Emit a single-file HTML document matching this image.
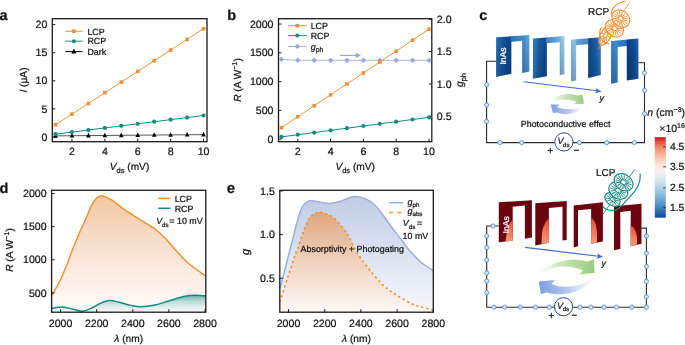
<!DOCTYPE html>
<html><head><meta charset="utf-8"><style>
html,body{margin:0;padding:0;background:#fff;width:685px;height:345px;overflow:hidden}
svg{display:block;will-change:transform;text-rendering:geometricPrecision}
text{stroke:#111;stroke-width:0.22px}
text.w{stroke:#fff}
</style></head><body><svg width="685" height="345" viewBox="0 0 685 345" font-family='"Liberation Sans", sans-serif' fill="#111"><rect x="52.3" y="18.7" width="154.7" height="122.99999999999999" fill="none" stroke="#1a1a1a" stroke-width="1.3"/>
<line x1="52.3" y1="137.00" x2="55.3" y2="137.00" stroke="#1a1a1a" stroke-width="1"/>
<text x="47.30" y="140.60" font-size="10.6" text-anchor="end" >0</text>
<line x1="52.3" y1="108.90" x2="55.3" y2="108.90" stroke="#1a1a1a" stroke-width="1"/>
<text x="47.30" y="112.50" font-size="10.6" text-anchor="end" >5</text>
<line x1="52.3" y1="80.80" x2="55.3" y2="80.80" stroke="#1a1a1a" stroke-width="1"/>
<text x="47.30" y="84.40" font-size="10.6" text-anchor="end" >10</text>
<line x1="52.3" y1="52.70" x2="55.3" y2="52.70" stroke="#1a1a1a" stroke-width="1"/>
<text x="47.30" y="56.30" font-size="10.6" text-anchor="end" >15</text>
<line x1="52.3" y1="24.60" x2="55.3" y2="24.60" stroke="#1a1a1a" stroke-width="1"/>
<text x="47.30" y="28.20" font-size="10.6" text-anchor="end" >20</text>
<line x1="71.95" y1="141.7" x2="71.95" y2="138.7" stroke="#1a1a1a" stroke-width="1"/>
<text x="71.95" y="154.70" font-size="10.6" text-anchor="middle" >2</text>
<line x1="104.85" y1="141.7" x2="104.85" y2="138.7" stroke="#1a1a1a" stroke-width="1"/>
<text x="104.85" y="154.70" font-size="10.6" text-anchor="middle" >4</text>
<line x1="137.75" y1="141.7" x2="137.75" y2="138.7" stroke="#1a1a1a" stroke-width="1"/>
<text x="137.75" y="154.70" font-size="10.6" text-anchor="middle" >6</text>
<line x1="170.65" y1="141.7" x2="170.65" y2="138.7" stroke="#1a1a1a" stroke-width="1"/>
<text x="170.65" y="154.70" font-size="10.6" text-anchor="middle" >8</text>
<line x1="203.55" y1="141.7" x2="203.55" y2="138.7" stroke="#1a1a1a" stroke-width="1"/>
<text x="203.55" y="154.70" font-size="10.6" text-anchor="middle" >10</text>
<polyline points="55.50,135.88 71.95,135.74 88.40,135.59 104.85,135.45 121.30,135.31 137.75,135.17 154.20,135.03 170.65,134.89 187.10,134.75 203.55,134.61" fill="none" stroke="#444" stroke-width="0.9"/>
<path d="M55.50,133.12 L57.80,137.72 L53.20,137.72Z" fill="#000"/>
<path d="M71.95,132.98 L74.25,137.58 L69.65,137.58Z" fill="#000"/>
<path d="M88.40,132.84 L90.70,137.44 L86.10,137.44Z" fill="#000"/>
<path d="M104.85,132.69 L107.15,137.29 L102.55,137.29Z" fill="#000"/>
<path d="M121.30,132.55 L123.60,137.15 L119.00,137.15Z" fill="#000"/>
<path d="M137.75,132.41 L140.05,137.01 L135.45,137.01Z" fill="#000"/>
<path d="M154.20,132.27 L156.50,136.87 L151.90,136.87Z" fill="#000"/>
<path d="M170.65,132.13 L172.95,136.73 L168.35,136.73Z" fill="#000"/>
<path d="M187.10,131.99 L189.40,136.59 L184.80,136.59Z" fill="#000"/>
<path d="M203.55,131.85 L205.85,136.45 L201.25,136.45Z" fill="#000"/>
<polyline points="55.50,134.19 71.95,132.11 88.40,130.03 104.85,127.95 121.30,125.87 137.75,123.79 154.20,121.71 170.65,119.63 187.10,117.55 203.55,115.48" fill="none" stroke="#138A80" stroke-width="1"/>
<circle cx="55.50" cy="134.19" r="2.1" fill="#138A80"/>
<circle cx="71.95" cy="132.11" r="2.1" fill="#138A80"/>
<circle cx="88.40" cy="130.03" r="2.1" fill="#138A80"/>
<circle cx="104.85" cy="127.95" r="2.1" fill="#138A80"/>
<circle cx="121.30" cy="125.87" r="2.1" fill="#138A80"/>
<circle cx="137.75" cy="123.79" r="2.1" fill="#138A80"/>
<circle cx="154.20" cy="121.71" r="2.1" fill="#138A80"/>
<circle cx="170.65" cy="119.63" r="2.1" fill="#138A80"/>
<circle cx="187.10" cy="117.55" r="2.1" fill="#138A80"/>
<circle cx="203.55" cy="115.48" r="2.1" fill="#138A80"/>
<polyline points="55.50,124.80 71.95,114.13 88.40,103.45 104.85,92.77 121.30,82.09 137.75,71.41 154.20,60.74 170.65,50.06 187.10,39.38 203.55,28.70" fill="none" stroke="#EC9235" stroke-width="1"/>
<rect x="53.70" y="123.00" width="3.6" height="3.6" fill="#EC9235"/>
<rect x="70.15" y="112.33" width="3.6" height="3.6" fill="#EC9235"/>
<rect x="86.60" y="101.65" width="3.6" height="3.6" fill="#EC9235"/>
<rect x="103.05" y="90.97" width="3.6" height="3.6" fill="#EC9235"/>
<rect x="119.50" y="80.29" width="3.6" height="3.6" fill="#EC9235"/>
<rect x="135.95" y="69.61" width="3.6" height="3.6" fill="#EC9235"/>
<rect x="152.40" y="58.94" width="3.6" height="3.6" fill="#EC9235"/>
<rect x="168.85" y="48.26" width="3.6" height="3.6" fill="#EC9235"/>
<rect x="185.30" y="37.58" width="3.6" height="3.6" fill="#EC9235"/>
<rect x="201.75" y="26.90" width="3.6" height="3.6" fill="#EC9235"/>
<line x1="65.3" y1="31.3" x2="82.5" y2="31.3" stroke="#EC9235" stroke-width="1"/>
<rect x="72.05" y="29.45" width="3.7" height="3.7" fill="#EC9235"/>
<text x="87.40" y="34.50" font-size="8.9" text-anchor="start" >LCP</text>
<line x1="65.3" y1="41.2" x2="82.5" y2="41.2" stroke="#138A80" stroke-width="1"/>
<circle cx="73.90" cy="41.20" r="2.0" fill="#138A80"/>
<text x="87.40" y="44.40" font-size="8.9" text-anchor="start" >RCP</text>
<line x1="65.3" y1="51.6" x2="82.5" y2="51.6" stroke="#000" stroke-width="1"/>
<path d="M73.90,48.60 L76.40,53.60 L71.40,53.60Z" fill="#000"/>
<text x="87.40" y="54.80" font-size="8.9" text-anchor="start" >Dark</text>
<text x="27.00" y="80.00" font-size="10.2" text-anchor="middle" transform="rotate(-90 27 80)"><tspan font-style="italic">I</tspan> (μA)</text>
<text x="129.50" y="170.10" font-size="10.2" text-anchor="middle" ><tspan font-style="italic">V</tspan><tspan font-size="7.5" dy="2.6">ds</tspan><tspan dy="-2.6"> (mV)</tspan></text>
<text x="-0.5" y="19.5" font-size="14.5" font-weight="bold">a</text>
<rect x="278.5" y="18.7" width="153.3" height="122.99999999999999" fill="none" stroke="#1a1a1a" stroke-width="1.3"/>
<line x1="278.5" y1="139.20" x2="281.5" y2="139.20" stroke="#1a1a1a" stroke-width="1"/>
<text x="273.50" y="142.80" font-size="10.6" text-anchor="end" >0</text>
<line x1="278.5" y1="110.41" x2="281.5" y2="110.41" stroke="#1a1a1a" stroke-width="1"/>
<text x="273.50" y="114.01" font-size="10.6" text-anchor="end" >500</text>
<line x1="278.5" y1="81.63" x2="281.5" y2="81.63" stroke="#1a1a1a" stroke-width="1"/>
<text x="273.50" y="85.23" font-size="10.6" text-anchor="end" >1000</text>
<line x1="278.5" y1="52.84" x2="281.5" y2="52.84" stroke="#1a1a1a" stroke-width="1"/>
<text x="273.50" y="56.44" font-size="10.6" text-anchor="end" >1500</text>
<line x1="278.5" y1="24.06" x2="281.5" y2="24.06" stroke="#1a1a1a" stroke-width="1"/>
<text x="273.50" y="27.66" font-size="10.6" text-anchor="end" >2000</text>
<line x1="431.8" y1="116.30" x2="428.8" y2="116.30" stroke="#1a1a1a" stroke-width="1"/>
<text x="436.80" y="119.90" font-size="10.6" text-anchor="start" >0.5</text>
<line x1="431.8" y1="83.95" x2="428.8" y2="83.95" stroke="#1a1a1a" stroke-width="1"/>
<text x="436.80" y="87.55" font-size="10.6" text-anchor="start" >1.0</text>
<line x1="431.8" y1="51.60" x2="428.8" y2="51.60" stroke="#1a1a1a" stroke-width="1"/>
<text x="436.80" y="55.20" font-size="10.6" text-anchor="start" >1.5</text>
<line x1="431.8" y1="19.25" x2="428.8" y2="19.25" stroke="#1a1a1a" stroke-width="1"/>
<text x="436.80" y="22.85" font-size="10.6" text-anchor="start" >2.0</text>
<line x1="297.80" y1="141.7" x2="297.80" y2="138.7" stroke="#1a1a1a" stroke-width="1"/>
<text x="297.80" y="154.70" font-size="10.6" text-anchor="middle" >2</text>
<line x1="330.60" y1="141.7" x2="330.60" y2="138.7" stroke="#1a1a1a" stroke-width="1"/>
<text x="330.60" y="154.70" font-size="10.6" text-anchor="middle" >4</text>
<line x1="363.40" y1="141.7" x2="363.40" y2="138.7" stroke="#1a1a1a" stroke-width="1"/>
<text x="363.40" y="154.70" font-size="10.6" text-anchor="middle" >6</text>
<line x1="396.20" y1="141.7" x2="396.20" y2="138.7" stroke="#1a1a1a" stroke-width="1"/>
<text x="396.20" y="154.70" font-size="10.6" text-anchor="middle" >8</text>
<line x1="429.00" y1="141.7" x2="429.00" y2="138.7" stroke="#1a1a1a" stroke-width="1"/>
<text x="429.00" y="154.70" font-size="10.6" text-anchor="middle" >10</text>
<polyline points="281.40,59.36 297.80,60.33 314.20,60.33 330.60,60.33 347.00,60.33 363.40,60.33 379.80,60.33 396.20,60.33 412.60,60.33 429.00,60.33" fill="none" stroke="#A9B9DE" stroke-width="1"/>
<path d="M281.40,56.66 L284.10,59.36 L281.40,62.06 L278.70,59.36Z" fill="#93A7D6"/>
<path d="M297.80,57.63 L300.50,60.33 L297.80,63.03 L295.10,60.33Z" fill="#93A7D6"/>
<path d="M314.20,57.63 L316.90,60.33 L314.20,63.03 L311.50,60.33Z" fill="#93A7D6"/>
<path d="M330.60,57.63 L333.30,60.33 L330.60,63.03 L327.90,60.33Z" fill="#93A7D6"/>
<path d="M347.00,57.63 L349.70,60.33 L347.00,63.03 L344.30,60.33Z" fill="#93A7D6"/>
<path d="M363.40,57.63 L366.10,60.33 L363.40,63.03 L360.70,60.33Z" fill="#93A7D6"/>
<path d="M379.80,57.63 L382.50,60.33 L379.80,63.03 L377.10,60.33Z" fill="#93A7D6"/>
<path d="M396.20,57.63 L398.90,60.33 L396.20,63.03 L393.50,60.33Z" fill="#93A7D6"/>
<path d="M412.60,57.63 L415.30,60.33 L412.60,63.03 L409.90,60.33Z" fill="#93A7D6"/>
<path d="M429.00,57.63 L431.70,60.33 L429.00,63.03 L426.30,60.33Z" fill="#93A7D6"/>
<polyline points="281.40,136.90 297.80,134.72 314.20,132.54 330.60,130.37 347.00,128.19 363.40,126.02 379.80,123.84 396.20,121.66 412.60,119.49 429.00,117.31" fill="none" stroke="#138A80" stroke-width="1"/>
<circle cx="281.40" cy="136.90" r="2.1" fill="#138A80"/>
<circle cx="297.80" cy="134.72" r="2.1" fill="#138A80"/>
<circle cx="314.20" cy="132.54" r="2.1" fill="#138A80"/>
<circle cx="330.60" cy="130.37" r="2.1" fill="#138A80"/>
<circle cx="347.00" cy="128.19" r="2.1" fill="#138A80"/>
<circle cx="363.40" cy="126.02" r="2.1" fill="#138A80"/>
<circle cx="379.80" cy="123.84" r="2.1" fill="#138A80"/>
<circle cx="396.20" cy="121.66" r="2.1" fill="#138A80"/>
<circle cx="412.60" cy="119.49" r="2.1" fill="#138A80"/>
<circle cx="429.00" cy="117.31" r="2.1" fill="#138A80"/>
<polyline points="281.40,127.69 297.80,116.75 314.20,105.81 330.60,94.87 347.00,83.93 363.40,72.99 379.80,62.06 396.20,51.12 412.60,40.18 429.00,29.24" fill="none" stroke="#EC9235" stroke-width="1"/>
<rect x="279.60" y="125.89" width="3.6" height="3.6" fill="#EC9235"/>
<rect x="296.00" y="114.95" width="3.6" height="3.6" fill="#EC9235"/>
<rect x="312.40" y="104.01" width="3.6" height="3.6" fill="#EC9235"/>
<rect x="328.80" y="93.07" width="3.6" height="3.6" fill="#EC9235"/>
<rect x="345.20" y="82.13" width="3.6" height="3.6" fill="#EC9235"/>
<rect x="361.60" y="71.19" width="3.6" height="3.6" fill="#EC9235"/>
<rect x="378.00" y="60.26" width="3.6" height="3.6" fill="#EC9235"/>
<rect x="394.40" y="49.32" width="3.6" height="3.6" fill="#EC9235"/>
<rect x="410.80" y="38.38" width="3.6" height="3.6" fill="#EC9235"/>
<rect x="427.20" y="27.44" width="3.6" height="3.6" fill="#EC9235"/>
<line x1="340" y1="55.4" x2="357" y2="55.4" stroke="#8DA2D6" stroke-width="1.1"/>
<path d="M360.8,55.4 L355.8,52.8 L355.8,58 Z" fill="#8DA2D6"/>
<line x1="288.2" y1="25.7" x2="306.8" y2="25.7" stroke="#EC9235" stroke-width="1"/>
<rect x="295.35" y="23.85" width="3.7" height="3.7" fill="#EC9235"/>
<text x="310.70" y="28.90" font-size="8.9" text-anchor="start" >LCP</text>
<line x1="288.2" y1="35.6" x2="306.8" y2="35.6" stroke="#138A80" stroke-width="1"/>
<circle cx="297.20" cy="35.60" r="2.0" fill="#138A80"/>
<text x="310.70" y="38.80" font-size="8.9" text-anchor="start" >RCP</text>
<line x1="288.2" y1="46.4" x2="306.8" y2="46.4" stroke="#9AAEDC" stroke-width="1"/>
<path d="M297.40,43.80 L300.00,46.40 L297.40,49.00 L294.80,46.40Z" fill="#93A7D6"/>
<text x="310.70" y="49.60" font-size="8.9" text-anchor="start" ><tspan font-style="italic">g</tspan><tspan font-size="7" dy="2">ph</tspan></text>
<text x="240.50" y="80.00" font-size="10.2" text-anchor="middle" transform="rotate(-90 240.5 80)"><tspan font-style="italic">R</tspan> (A W<tspan font-size="7" dy="-3.5">−1</tspan><tspan dy="3.5">)</tspan></text>
<text x="463.00" y="80.00" font-size="10.2" text-anchor="middle" transform="rotate(-90 463 80)"><tspan font-style="italic">g</tspan><tspan font-size="7.5" dy="2.6">ph</tspan></text>
<text x="355.20" y="170.10" font-size="10.2" text-anchor="middle" ><tspan font-style="italic">V</tspan><tspan font-size="7.5" dy="2.6">ds</tspan><tspan dy="-2.6"> (mV)</tspan></text>
<text x="227.2" y="19.5" font-size="14.5" font-weight="bold">b</text>
<defs><linearGradient id="gl" x1="0" y1="0" x2="0" y2="1"><stop offset="0" stop-color="#F0C7A0"/><stop offset="0.45" stop-color="#F8E1D1"/><stop offset="1" stop-color="#FFFCFB"/></linearGradient><linearGradient id="gr" gradientUnits="userSpaceOnUse" x1="0" y1="295" x2="0" y2="312"><stop offset="0" stop-color="#6AAFA6"/><stop offset="0.4" stop-color="#BEDDD9"/><stop offset="1" stop-color="#FBFDFD"/></linearGradient><linearGradient id="gb" gradientUnits="userSpaceOnUse" x1="0" y1="196" x2="0" y2="312"><stop offset="0" stop-color="#BFCBE6"/><stop offset="1" stop-color="#F7F8FC"/></linearGradient><linearGradient id="go" gradientUnits="userSpaceOnUse" x1="0" y1="213" x2="0" y2="312"><stop offset="0" stop-color="#DFA67B"/><stop offset="0.5" stop-color="#F0D2C0"/><stop offset="1" stop-color="#FDF8F6"/></linearGradient></defs>
<path d="M51.90,295.20 C53.15,293.00 57.05,286.70 59.40,282.00 C61.75,277.30 63.87,272.25 66.00,267.00 C68.13,261.75 69.85,256.45 72.20,250.50 C74.55,244.55 77.83,236.53 80.10,231.30 C82.37,226.07 83.92,223.40 85.80,219.10 C87.68,214.80 89.52,209.08 91.40,205.50 C93.28,201.92 95.22,199.20 97.10,197.60 C98.98,196.00 100.20,195.47 102.70,195.90 C105.20,196.33 108.95,198.25 112.10,200.20 C115.25,202.15 118.78,205.55 121.60,207.60 C124.42,209.65 126.05,210.58 129.00,212.50 C131.95,214.42 136.33,217.22 139.30,219.10 C142.27,220.98 144.60,222.40 146.80,223.80 C149.00,225.20 151.08,226.63 152.50,227.50 C153.92,228.37 153.10,227.12 155.30,229.00 C157.50,230.88 162.17,235.13 165.70,238.80 C169.23,242.47 172.73,246.93 176.50,251.00 C180.27,255.07 183.45,259.03 188.30,263.20 C193.15,267.37 202.72,273.87 205.60,276.00 L205.6,312.2 L51.9,312.2 Z" fill="url(#gl)"/>
<path d="M51.90,308.20 C53.58,308.00 58.55,306.87 62.00,307.00 C65.45,307.13 69.27,308.30 72.60,309.00 C75.93,309.70 78.77,311.37 82.00,311.20 C85.23,311.03 89.00,309.28 92.00,308.00 C95.00,306.72 97.08,304.73 100.00,303.50 C102.92,302.27 106.17,300.77 109.50,300.60 C112.83,300.43 116.58,301.72 120.00,302.50 C123.42,303.28 126.50,304.58 130.00,305.30 C133.50,306.02 136.83,306.85 141.00,306.80 C145.17,306.75 150.50,305.93 155.00,305.00 C159.50,304.07 163.08,302.65 168.00,301.20 C172.92,299.75 179.87,297.30 184.50,296.30 C189.13,295.30 192.28,295.28 195.80,295.20 C199.32,295.12 203.97,295.70 205.60,295.80 L205.6,312.2 L51.9,312.2 Z" fill="url(#gr)"/>
<path d="M51.90,295.20 C53.15,293.00 57.05,286.70 59.40,282.00 C61.75,277.30 63.87,272.25 66.00,267.00 C68.13,261.75 69.85,256.45 72.20,250.50 C74.55,244.55 77.83,236.53 80.10,231.30 C82.37,226.07 83.92,223.40 85.80,219.10 C87.68,214.80 89.52,209.08 91.40,205.50 C93.28,201.92 95.22,199.20 97.10,197.60 C98.98,196.00 100.20,195.47 102.70,195.90 C105.20,196.33 108.95,198.25 112.10,200.20 C115.25,202.15 118.78,205.55 121.60,207.60 C124.42,209.65 126.05,210.58 129.00,212.50 C131.95,214.42 136.33,217.22 139.30,219.10 C142.27,220.98 144.60,222.40 146.80,223.80 C149.00,225.20 151.08,226.63 152.50,227.50 C153.92,228.37 153.10,227.12 155.30,229.00 C157.50,230.88 162.17,235.13 165.70,238.80 C169.23,242.47 172.73,246.93 176.50,251.00 C180.27,255.07 183.45,259.03 188.30,263.20 C193.15,267.37 202.72,273.87 205.60,276.00" fill="none" stroke="#EC9235" stroke-width="1.5"/>
<path d="M51.90,308.20 C53.58,308.00 58.55,306.87 62.00,307.00 C65.45,307.13 69.27,308.30 72.60,309.00 C75.93,309.70 78.77,311.37 82.00,311.20 C85.23,311.03 89.00,309.28 92.00,308.00 C95.00,306.72 97.08,304.73 100.00,303.50 C102.92,302.27 106.17,300.77 109.50,300.60 C112.83,300.43 116.58,301.72 120.00,302.50 C123.42,303.28 126.50,304.58 130.00,305.30 C133.50,306.02 136.83,306.85 141.00,306.80 C145.17,306.75 150.50,305.93 155.00,305.00 C159.50,304.07 163.08,302.65 168.00,301.20 C172.92,299.75 179.87,297.30 184.50,296.30 C189.13,295.30 192.28,295.28 195.80,295.20 C199.32,295.12 203.97,295.70 205.60,295.80" fill="none" stroke="#138A80" stroke-width="1.5"/>
<rect x="51.6" y="190.3" width="154.20000000000002" height="121.89999999999998" fill="none" stroke="#1a1a1a" stroke-width="1.3"/>
<line x1="51.6" y1="292.90" x2="54.6" y2="292.90" stroke="#1a1a1a" stroke-width="1"/>
<text x="46.60" y="296.50" font-size="10.6" text-anchor="end" >500</text>
<line x1="51.6" y1="259.80" x2="54.6" y2="259.80" stroke="#1a1a1a" stroke-width="1"/>
<text x="46.60" y="263.40" font-size="10.6" text-anchor="end" >1000</text>
<line x1="51.6" y1="226.70" x2="54.6" y2="226.70" stroke="#1a1a1a" stroke-width="1"/>
<text x="46.60" y="230.30" font-size="10.6" text-anchor="end" >1500</text>
<line x1="51.6" y1="193.60" x2="54.6" y2="193.60" stroke="#1a1a1a" stroke-width="1"/>
<text x="46.60" y="197.20" font-size="10.6" text-anchor="end" >2000</text>
<line x1="60.60" y1="312.2" x2="60.60" y2="309.2" stroke="#1a1a1a" stroke-width="1"/>
<text x="60.60" y="326.80" font-size="10.6" text-anchor="middle" >2000</text>
<line x1="96.70" y1="312.2" x2="96.70" y2="309.2" stroke="#1a1a1a" stroke-width="1"/>
<text x="96.70" y="326.80" font-size="10.6" text-anchor="middle" >2200</text>
<line x1="132.80" y1="312.2" x2="132.80" y2="309.2" stroke="#1a1a1a" stroke-width="1"/>
<text x="132.80" y="326.80" font-size="10.6" text-anchor="middle" >2400</text>
<line x1="168.90" y1="312.2" x2="168.90" y2="309.2" stroke="#1a1a1a" stroke-width="1"/>
<text x="168.90" y="326.80" font-size="10.6" text-anchor="middle" >2600</text>
<line x1="205.00" y1="312.2" x2="205.00" y2="309.2" stroke="#1a1a1a" stroke-width="1"/>
<text x="205.00" y="326.80" font-size="10.6" text-anchor="middle" >2800</text>
<line x1="158.1" y1="198.4" x2="170.4" y2="198.4" stroke="#EC9235" stroke-width="1.5"/>
<line x1="158.1" y1="208.3" x2="170.4" y2="208.3" stroke="#138A80" stroke-width="1.5"/>
<text x="174.70" y="201.60" font-size="8.9" text-anchor="start" >LCP</text>
<text x="174.70" y="211.50" font-size="8.9" text-anchor="start" >RCP</text>
<text x="156.20" y="223.80" font-size="8.9" text-anchor="start" ><tspan font-style="italic">V</tspan><tspan font-size="6.2" dy="2.8">ds</tspan><tspan x="169.3" dy="-2.8">= 10 mV</tspan></text>
<text x="12.50" y="250.00" font-size="10.2" text-anchor="middle" transform="rotate(-90 12.5 250)"><tspan font-style="italic">R</tspan> (A W<tspan font-size="7" dy="-3.5">−1</tspan><tspan dy="3.5">)</tspan></text>
<text x="128.70" y="342.00" font-size="10.2" text-anchor="middle" ><tspan font-style="italic">λ</tspan> (nm)</text>
<text x="-0.5" y="192.5" font-size="14.5" font-weight="bold">d</text>
<path d="M279.90,288.60 C280.67,285.75 283.05,277.10 284.50,271.50 C285.95,265.90 287.20,260.50 288.60,255.00 C290.00,249.50 291.60,243.57 292.90,238.50 C294.20,233.43 295.23,228.95 296.40,224.60 C297.57,220.25 298.75,215.60 299.90,212.40 C301.05,209.20 302.00,207.20 303.30,205.40 C304.60,203.60 306.25,202.40 307.70,201.60 C309.15,200.80 310.12,200.53 312.00,200.60 C313.88,200.67 316.20,201.53 319.00,202.00 C321.80,202.47 325.28,203.50 328.80,203.40 C332.32,203.30 336.90,202.27 340.10,201.40 C343.30,200.53 345.52,199.02 348.00,198.20 C350.48,197.38 352.27,196.47 355.00,196.50 C357.73,196.53 361.27,197.15 364.40,198.40 C367.53,199.65 370.67,201.18 373.80,204.00 C376.93,206.82 380.05,211.22 383.20,215.30 C386.35,219.38 389.55,224.27 392.70,228.50 C395.85,232.73 399.30,237.03 402.10,240.70 C404.90,244.37 406.37,246.92 409.50,250.50 C412.63,254.08 416.95,258.83 420.90,262.20 C424.85,265.57 431.15,269.28 433.20,270.70 L433.2,312.2 L279.9,312.2 Z" fill="url(#gb)"/>
<path d="M279.90,302.00 C281.25,297.75 285.40,284.50 288.00,276.50 C290.60,268.50 293.82,258.88 295.50,254.00 C297.18,249.12 297.08,250.08 298.10,247.20 C299.12,244.32 300.43,240.03 301.60,236.70 C302.77,233.37 303.93,230.10 305.10,227.20 C306.27,224.30 307.30,221.42 308.60,219.30 C309.90,217.18 311.32,215.65 312.90,214.50 C314.48,213.35 316.53,212.72 318.10,212.40 C319.67,212.08 319.88,211.80 322.30,212.60 C324.72,213.40 329.00,214.47 332.60,217.20 C336.20,219.93 341.08,225.53 343.90,229.00 C346.72,232.47 347.62,234.57 349.50,238.00 C351.38,241.43 352.80,245.50 355.20,249.60 C357.60,253.70 361.00,258.62 363.90,262.60 C366.80,266.58 369.70,270.02 372.60,273.50 C375.50,276.98 378.40,280.65 381.30,283.50 C384.20,286.35 387.10,288.43 390.00,290.60 C392.90,292.77 395.12,294.33 398.70,296.50 C402.28,298.67 407.80,301.85 411.50,303.60 C415.20,305.35 417.28,305.95 420.90,307.00 C424.52,308.05 431.15,309.42 433.20,309.90 L433.2,312.2 L279.9,312.2 Z" fill="url(#go)"/>
<path d="M279.90,288.60 C280.67,285.75 283.05,277.10 284.50,271.50 C285.95,265.90 287.20,260.50 288.60,255.00 C290.00,249.50 291.60,243.57 292.90,238.50 C294.20,233.43 295.23,228.95 296.40,224.60 C297.57,220.25 298.75,215.60 299.90,212.40 C301.05,209.20 302.00,207.20 303.30,205.40 C304.60,203.60 306.25,202.40 307.70,201.60 C309.15,200.80 310.12,200.53 312.00,200.60 C313.88,200.67 316.20,201.53 319.00,202.00 C321.80,202.47 325.28,203.50 328.80,203.40 C332.32,203.30 336.90,202.27 340.10,201.40 C343.30,200.53 345.52,199.02 348.00,198.20 C350.48,197.38 352.27,196.47 355.00,196.50 C357.73,196.53 361.27,197.15 364.40,198.40 C367.53,199.65 370.67,201.18 373.80,204.00 C376.93,206.82 380.05,211.22 383.20,215.30 C386.35,219.38 389.55,224.27 392.70,228.50 C395.85,232.73 399.30,237.03 402.10,240.70 C404.90,244.37 406.37,246.92 409.50,250.50 C412.63,254.08 416.95,258.83 420.90,262.20 C424.85,265.57 431.15,269.28 433.20,270.70" fill="none" stroke="#9AAEDC" stroke-width="1.5"/>
<path d="M279.90,302.00 C281.25,297.75 285.40,284.50 288.00,276.50 C290.60,268.50 293.82,258.88 295.50,254.00 C297.18,249.12 297.08,250.08 298.10,247.20 C299.12,244.32 300.43,240.03 301.60,236.70 C302.77,233.37 303.93,230.10 305.10,227.20 C306.27,224.30 307.30,221.42 308.60,219.30 C309.90,217.18 311.32,215.65 312.90,214.50 C314.48,213.35 316.53,212.72 318.10,212.40 C319.67,212.08 319.88,211.80 322.30,212.60 C324.72,213.40 329.00,214.47 332.60,217.20 C336.20,219.93 341.08,225.53 343.90,229.00 C346.72,232.47 347.62,234.57 349.50,238.00 C351.38,241.43 352.80,245.50 355.20,249.60 C357.60,253.70 361.00,258.62 363.90,262.60 C366.80,266.58 369.70,270.02 372.60,273.50 C375.50,276.98 378.40,280.65 381.30,283.50 C384.20,286.35 387.10,288.43 390.00,290.60 C392.90,292.77 395.12,294.33 398.70,296.50 C402.28,298.67 407.80,301.85 411.50,303.60 C415.20,305.35 417.28,305.95 420.90,307.00 C424.52,308.05 431.15,309.42 433.20,309.90" fill="none" stroke="#EA8F2E" stroke-width="1.6" stroke-dasharray="2.2 2.9"/>
<rect x="279.8" y="190.3" width="153.5" height="121.89999999999998" fill="none" stroke="#1a1a1a" stroke-width="1.3"/>
<line x1="279.8" y1="278.20" x2="282.8" y2="278.20" stroke="#1a1a1a" stroke-width="1"/>
<text x="274.80" y="281.80" font-size="10.6" text-anchor="end" >0.5</text>
<line x1="279.8" y1="234.60" x2="282.8" y2="234.60" stroke="#1a1a1a" stroke-width="1"/>
<text x="274.80" y="238.20" font-size="10.6" text-anchor="end" >1.0</text>
<line x1="279.8" y1="191.00" x2="282.8" y2="191.00" stroke="#1a1a1a" stroke-width="1"/>
<text x="274.80" y="194.60" font-size="10.6" text-anchor="end" >1.5</text>
<line x1="288.50" y1="312.2" x2="288.50" y2="309.2" stroke="#1a1a1a" stroke-width="1"/>
<text x="288.50" y="326.80" font-size="10.6" text-anchor="middle" >2000</text>
<line x1="324.70" y1="312.2" x2="324.70" y2="309.2" stroke="#1a1a1a" stroke-width="1"/>
<text x="324.70" y="326.80" font-size="10.6" text-anchor="middle" >2200</text>
<line x1="360.90" y1="312.2" x2="360.90" y2="309.2" stroke="#1a1a1a" stroke-width="1"/>
<text x="360.90" y="326.80" font-size="10.6" text-anchor="middle" >2400</text>
<line x1="397.10" y1="312.2" x2="397.10" y2="309.2" stroke="#1a1a1a" stroke-width="1"/>
<text x="397.10" y="326.80" font-size="10.6" text-anchor="middle" >2600</text>
<line x1="433.30" y1="312.2" x2="433.30" y2="309.2" stroke="#1a1a1a" stroke-width="1"/>
<text x="433.30" y="326.80" font-size="10.6" text-anchor="middle" >2800</text>
<line x1="388.9" y1="202.7" x2="403" y2="202.7" stroke="#9AAEDC" stroke-width="1.5"/>
<line x1="388.9" y1="212.4" x2="403" y2="212.4" stroke="#F0A028" stroke-width="1.5" stroke-dasharray="4.2 4.2"/>
<text x="407.50" y="204.90" font-size="8.9" text-anchor="start" ><tspan font-style="italic">g</tspan><tspan font-size="6.2" dy="2.4">ph</tspan></text>
<text x="407.50" y="213.80" font-size="8.9" text-anchor="start" ><tspan font-style="italic">g</tspan><tspan font-size="6.2" dy="2.4">abs</tspan></text>
<text x="402.80" y="226.30" font-size="8.9" text-anchor="start" ><tspan font-style="italic">V</tspan><tspan font-size="6.2" dy="2.8">ds</tspan><tspan x="417" dy="-2.8">=</tspan></text>
<text x="402.60" y="238.60" font-size="8.9" text-anchor="start" >10 mV</text>
<text x="300.60" y="252.00" font-size="8.9" text-anchor="start" >Absorptivity + Photogating</text>
<text x="248.50" y="252.00" font-size="11" text-anchor="middle" transform="rotate(-90 248.5 252)"><tspan font-style="italic">g</tspan></text>
<text x="356.50" y="342.00" font-size="10.2" text-anchor="middle" ><tspan font-style="italic">λ</tspan> (nm)</text>
<text x="226.7" y="192.8" font-size="15" font-weight="bold">e</text>
<defs><linearGradient id="bl1" x1="0" y1="0" x2="1" y2="0"><stop offset="0" stop-color="#2f78c0"/><stop offset="0.28" stop-color="#1a5fa8"/><stop offset="0.42" stop-color="#0c4a92"/><stop offset="0.45" stop-color="#3582c8"/><stop offset="0.8" stop-color="#3d8acc"/><stop offset="1" stop-color="#5a9ed8"/></linearGradient><linearGradient id="bl2" x1="0" y1="0" x2="1" y2="0"><stop offset="0" stop-color="#2a74bc"/><stop offset="0.38" stop-color="#0b4a92"/><stop offset="0.45" stop-color="#5a9ed8"/><stop offset="0.85" stop-color="#9cc9ec"/><stop offset="1" stop-color="#a8d0ee"/></linearGradient><linearGradient id="bl3" x1="0" y1="0" x2="1" y2="0"><stop offset="0" stop-color="#7fb6e2"/><stop offset="0.2" stop-color="#8cc0e8"/><stop offset="0.55" stop-color="#4a90d0"/><stop offset="0.8" stop-color="#1a5ea8"/><stop offset="1" stop-color="#2d74bc"/></linearGradient><linearGradient id="bl4" x1="0" y1="0" x2="1" y2="0"><stop offset="0" stop-color="#2c78c0"/><stop offset="0.25" stop-color="#3a86cc"/><stop offset="0.6" stop-color="#1a60aa"/><stop offset="0.82" stop-color="#0a4088"/><stop offset="1" stop-color="#1c5ea8"/></linearGradient><linearGradient id="shade" x1="0" y1="0" x2="0" y2="1"><stop offset="0" stop-color="#000" stop-opacity="0"/><stop offset="1" stop-color="#001a40" stop-opacity="0.25"/></linearGradient><linearGradient id="glow" x1="0" y1="0" x2="0" y2="1"><stop offset="0" stop-color="#e04a30" stop-opacity="0.5"/><stop offset="0.15" stop-color="#ea5a3c"/><stop offset="1" stop-color="#f79a7c"/></linearGradient><linearGradient id="cbar" x1="0" y1="0" x2="0" y2="1"><stop offset="0" stop-color="#b8141f"/><stop offset="0.04" stop-color="#e0402f"/><stop offset="0.13" stop-color="#f38a6c"/><stop offset="0.25" stop-color="#f9c3ae"/><stop offset="0.35" stop-color="#fce6dc"/><stop offset="0.43" stop-color="#f3f1f4"/><stop offset="0.55" stop-color="#d3e3f0"/><stop offset="0.7" stop-color="#93c2df"/><stop offset="0.85" stop-color="#4a90c6"/><stop offset="1" stop-color="#0c4a92"/></linearGradient><linearGradient id="garc" x1="0" y1="0" x2="1" y2="0"><stop offset="0" stop-color="#a6d38c" stop-opacity="0"/><stop offset="0.5" stop-color="#b5dca0" stop-opacity="0.85"/><stop offset="1" stop-color="#96cc7c"/></linearGradient><linearGradient id="barc" x1="0" y1="0" x2="1" y2="0"><stop offset="0" stop-color="#7a9de0"/><stop offset="0.5" stop-color="#a9bfea" stop-opacity="0.9"/><stop offset="1" stop-color="#c6d4f2" stop-opacity="0"/></linearGradient></defs>
<path d="M496,61.2 H486.6 V142.6 H554.6 M572.2,142.6 H644.5 V62.7 H638.4" fill="none" stroke="#2b2b2b" stroke-width="1.1"/>
<defs>
<linearGradient id="k1L" x1="0" y1="0" x2="1" y2="0"><stop offset="0" stop-color="#2c72ba"/><stop offset="0.45" stop-color="#17589f"/><stop offset="1" stop-color="#0b4288"/></linearGradient>
<linearGradient id="k1T" x1="0" y1="0" x2="1" y2="0"><stop offset="0" stop-color="#2a76c0"/><stop offset="1" stop-color="#3f8ccf"/></linearGradient>
<linearGradient id="k1R" x1="0" y1="0" x2="1" y2="0"><stop offset="0" stop-color="#3a88cc"/><stop offset="1" stop-color="#6aa8dc"/></linearGradient>
</defs>
<path d="M496.1,37.3 L511.35,36.29 L511.35,73.7 L496.1,77.1 Z" fill="url(#k1L)"/>
<path d="M510.65,36.34 L522.85,35.53 L522.85,40.65 L510.65,42.050000000000004 Z" fill="url(#k1T)"/>
<path d="M522.15,35.58 L529.4,35.1 L529.4,71.6 L522.15,73 Z" fill="url(#k1R)"/>
<defs>
<linearGradient id="k2L" x1="0" y1="0" x2="1" y2="0"><stop offset="0" stop-color="#3a86c8"/><stop offset="0.45" stop-color="#1a5ea6"/><stop offset="1" stop-color="#0c4a94"/></linearGradient>
<linearGradient id="k2T" x1="0" y1="0" x2="1" y2="0"><stop offset="0" stop-color="#3a86c8"/><stop offset="1" stop-color="#7ab4e0"/></linearGradient>
<linearGradient id="k2R" x1="0" y1="0" x2="1" y2="0"><stop offset="0" stop-color="#7cb8e4"/><stop offset="1" stop-color="#a6d0ee"/></linearGradient>
</defs>
<path d="M532.9,38.6 L546.85,37.40 L546.85,76.2 L532.9,78.7 Z" fill="url(#k2L)"/>
<path d="M546.15,37.46 L560.35,36.25 L560.35,42.35 L546.15,43.25 Z" fill="url(#k2T)"/>
<path d="M559.65,36.31 L564.4,35.9 L564.4,74.3 L559.65,74.9 Z" fill="url(#k2R)"/>
<defs>
<linearGradient id="k3L" x1="0" y1="0" x2="1" y2="0"><stop offset="0" stop-color="#86bde6"/><stop offset="1" stop-color="#9ccaee"/></linearGradient>
<linearGradient id="k3T" x1="0" y1="0" x2="1" y2="0"><stop offset="0" stop-color="#6aaadc"/><stop offset="1" stop-color="#3e88ca"/></linearGradient>
<linearGradient id="k3R" x1="0" y1="0" x2="1" y2="0"><stop offset="0" stop-color="#0b4890"/><stop offset="0.6" stop-color="#1a5ea8"/><stop offset="1" stop-color="#3a80c4"/></linearGradient>
</defs>
<path d="M571,39.7 L576.25,39.26 L576.25,80.6 L571,81.5 Z" fill="url(#k3L)"/>
<path d="M575.55,39.32 L588.85,38.20 L588.85,44.15 L575.55,45.15 Z" fill="url(#k3T)"/>
<path d="M588.15,38.26 L600.8,37.2 L600.8,74.9 L588.15,78.1 Z" fill="url(#k3R)"/>
<defs>
<linearGradient id="k4L" x1="0" y1="0" x2="1" y2="0"><stop offset="0" stop-color="#3080c8"/><stop offset="1" stop-color="#4690d0"/></linearGradient>
<linearGradient id="k4T" x1="0" y1="0" x2="1" y2="0"><stop offset="0" stop-color="#3a86cc"/><stop offset="1" stop-color="#2a70b8"/></linearGradient>
<linearGradient id="k4R" x1="0" y1="0" x2="1" y2="0"><stop offset="0" stop-color="#0a3f82"/><stop offset="0.6" stop-color="#114d96"/><stop offset="1" stop-color="#2464ac"/></linearGradient>
</defs>
<path d="M611.1,41 L617.75,40.42 L617.75,82.4 L611.1,83.8 Z" fill="url(#k4L)"/>
<path d="M617.05,40.48 L627.45,39.56 L627.45,46.050000000000004 L617.05,47.050000000000004 Z" fill="url(#k4T)"/>
<path d="M626.75,39.62 L638.4,38.6 L638.4,78.7 L626.75,80.6 Z" fill="url(#k4R)"/>
<path d="M496.1,37.3 L529.4,35.1 L529.4,71.6 L522.5,73 L522.5,40.3 L511,41.7 L511,73.7 L496.1,77.1 Z" fill="url(#shade)"/>
<path d="M532.9,38.6 L564.4,35.9 L564.4,74.3 L560,74.9 L560,42 L546.5,42.9 L546.5,76.2 L532.9,78.7 Z" fill="url(#shade)"/>
<path d="M571,39.7 L600.8,37.2 L600.8,74.9 L588.5,78.1 L588.5,43.8 L575.9,44.8 L575.9,80.6 L571,81.5 Z" fill="url(#shade)"/>
<path d="M611.1,41 L638.4,38.6 L638.4,78.7 L627.1,80.6 L627.1,45.7 L617.4,46.7 L617.4,82.4 L611.1,83.8 Z" fill="url(#shade)"/>
<text x="0" y="0" class="w" font-size="8.6" fill="#fff" text-anchor="middle" transform="translate(506,56) rotate(-90)">InAs</text>
<circle cx="486.6" cy="84.7" r="2.1" fill="#d6e6f7" stroke="#5a8ed6" stroke-width="0.9"/>
<circle cx="486.6" cy="105" r="2.1" fill="#d6e6f7" stroke="#5a8ed6" stroke-width="0.9"/>
<circle cx="486.6" cy="121.5" r="2.1" fill="#d6e6f7" stroke="#5a8ed6" stroke-width="0.9"/>
<circle cx="499.9" cy="142.6" r="2.1" fill="#d6e6f7" stroke="#5a8ed6" stroke-width="0.9"/>
<circle cx="521.7" cy="142.6" r="2.1" fill="#d6e6f7" stroke="#5a8ed6" stroke-width="0.9"/>
<circle cx="579.4" cy="142.6" r="2.1" fill="#d6e6f7" stroke="#5a8ed6" stroke-width="0.9"/>
<circle cx="606.7" cy="142.6" r="2.1" fill="#d6e6f7" stroke="#5a8ed6" stroke-width="0.9"/>
<circle cx="634.3" cy="142.6" r="2.1" fill="#d6e6f7" stroke="#5a8ed6" stroke-width="0.9"/>
<circle cx="644.5" cy="73" r="2.1" fill="#d6e6f7" stroke="#5a8ed6" stroke-width="0.9"/>
<circle cx="644.5" cy="90.5" r="2.1" fill="#d6e6f7" stroke="#5a8ed6" stroke-width="0.9"/>
<circle cx="644.5" cy="113.7" r="2.1" fill="#d6e6f7" stroke="#5a8ed6" stroke-width="0.9"/>
<circle cx="563.9" cy="141.9" r="9.1" fill="#fff" stroke="#2c4678" stroke-width="1"/>
<text x="557.4" y="144.3" font-size="9" font-style="italic">V</text>
<text x="563.1" y="146.5" font-size="6">ds</text>
<text x="550.4" y="153.50000000000003" font-size="10.5" text-anchor="middle">+</text>
<rect x="574.0" y="149.70000000000002" width="5" height="1.1" fill="#111"/>
<line x1="523.7" y1="81.8" x2="597" y2="90.8" stroke="#3d68cc" stroke-width="1.1"/>
<path d="M601.5,91.4 L595.5,88 L596.8,90.8 L594.8,93.5 Z" fill="#3d68cc"/>
<text x="599.5" y="100.5" font-size="9" font-style="italic">y</text>
<path d="M550.7,101.2 C556,94.2 568,92 578.5,95.6 L582.2,94.4 L584,103.8 L574,104 L577,101.8 C568,98.8 558,98.8 550.7,101.2 Z" fill="url(#garc)"/>
<path d="M583.7,106.8 C579,113.5 566,116.3 557,112.5 L553,113 L550.6,104.6 L559.6,104.6 L557,107.2 C565,109.8 576,109.8 583.7,106.8 Z" fill="url(#barc)"/>
<text x="520.8" y="126.8" font-size="8.9">Photoconductive effect</text>
<text x="588" y="14.5" font-size="10">RCP</text>
<line x1="598" y1="49.5" x2="629.6" y2="2.5" stroke="#EE8E2E" stroke-width="0.9"/>
<g transform="translate(605.8,35) rotate(28)">
<ellipse cx="0" cy="0" rx="5.2" ry="11.2" fill="#fff" fill-opacity="0.6" stroke="#EE8E2E" stroke-width="1.2"/>
<ellipse cx="0" cy="0" rx="1.46" ry="3.14" fill="none" stroke="#EE8E2E" stroke-width="0.9"/>
<line x1="1.56" y1="0.00" x2="4.42" y2="0.00" stroke="#EE8E2E" stroke-width="0.85"/>
<line x1="1.35" y1="1.68" x2="3.83" y2="4.76" stroke="#EE8E2E" stroke-width="0.85"/>
<line x1="0.78" y1="2.91" x2="2.21" y2="8.24" stroke="#EE8E2E" stroke-width="0.85"/>
<line x1="0.00" y1="3.36" x2="0.00" y2="9.52" stroke="#EE8E2E" stroke-width="0.85"/>
<line x1="-0.78" y1="2.91" x2="-2.21" y2="8.24" stroke="#EE8E2E" stroke-width="0.85"/>
<line x1="-1.35" y1="1.68" x2="-3.83" y2="4.76" stroke="#EE8E2E" stroke-width="0.85"/>
<line x1="-1.56" y1="0.00" x2="-4.42" y2="0.00" stroke="#EE8E2E" stroke-width="0.85"/>
<line x1="-1.35" y1="-1.68" x2="-3.83" y2="-4.76" stroke="#EE8E2E" stroke-width="0.85"/>
<line x1="-0.78" y1="-2.91" x2="-2.21" y2="-8.24" stroke="#EE8E2E" stroke-width="0.85"/>
<line x1="-0.00" y1="-3.36" x2="-0.00" y2="-9.52" stroke="#EE8E2E" stroke-width="0.85"/>
<line x1="0.78" y1="-2.91" x2="2.21" y2="-8.24" stroke="#EE8E2E" stroke-width="0.85"/>
<line x1="1.35" y1="-1.68" x2="3.83" y2="-4.76" stroke="#EE8E2E" stroke-width="0.85"/>
</g>
<g transform="translate(614.5,28.3) rotate(40)">
<ellipse cx="0" cy="0" rx="9.8" ry="7.8" fill="#fff" fill-opacity="0.6" stroke="#EE8E2E" stroke-width="1.2"/>
<ellipse cx="0" cy="0" rx="2.74" ry="2.18" fill="none" stroke="#EE8E2E" stroke-width="0.9"/>
<line x1="2.94" y1="0.00" x2="8.33" y2="0.00" stroke="#EE8E2E" stroke-width="0.85"/>
<line x1="2.72" y1="0.90" x2="7.70" y2="2.54" stroke="#EE8E2E" stroke-width="0.85"/>
<line x1="2.08" y1="1.65" x2="5.89" y2="4.69" stroke="#EE8E2E" stroke-width="0.85"/>
<line x1="1.13" y1="2.16" x2="3.19" y2="6.13" stroke="#EE8E2E" stroke-width="0.85"/>
<line x1="0.00" y1="2.34" x2="0.00" y2="6.63" stroke="#EE8E2E" stroke-width="0.85"/>
<line x1="-1.13" y1="2.16" x2="-3.19" y2="6.13" stroke="#EE8E2E" stroke-width="0.85"/>
<line x1="-2.08" y1="1.65" x2="-5.89" y2="4.69" stroke="#EE8E2E" stroke-width="0.85"/>
<line x1="-2.72" y1="0.90" x2="-7.70" y2="2.54" stroke="#EE8E2E" stroke-width="0.85"/>
<line x1="-2.94" y1="0.00" x2="-8.33" y2="0.00" stroke="#EE8E2E" stroke-width="0.85"/>
<line x1="-2.72" y1="-0.90" x2="-7.70" y2="-2.54" stroke="#EE8E2E" stroke-width="0.85"/>
<line x1="-2.08" y1="-1.65" x2="-5.89" y2="-4.69" stroke="#EE8E2E" stroke-width="0.85"/>
<line x1="-1.13" y1="-2.16" x2="-3.19" y2="-6.13" stroke="#EE8E2E" stroke-width="0.85"/>
<line x1="-0.00" y1="-2.34" x2="-0.00" y2="-6.63" stroke="#EE8E2E" stroke-width="0.85"/>
<line x1="1.13" y1="-2.16" x2="3.19" y2="-6.13" stroke="#EE8E2E" stroke-width="0.85"/>
<line x1="2.08" y1="-1.65" x2="5.89" y2="-4.69" stroke="#EE8E2E" stroke-width="0.85"/>
<line x1="2.72" y1="-0.90" x2="7.70" y2="-2.54" stroke="#EE8E2E" stroke-width="0.85"/>
</g>
<g transform="translate(620.8,18.6) rotate(40)">
<ellipse cx="0" cy="0" rx="9.8" ry="7.8" fill="#fff" fill-opacity="0.6" stroke="#EE8E2E" stroke-width="1.2"/>
<ellipse cx="0" cy="0" rx="2.74" ry="2.18" fill="none" stroke="#EE8E2E" stroke-width="0.9"/>
<line x1="2.94" y1="0.00" x2="8.33" y2="0.00" stroke="#EE8E2E" stroke-width="0.85"/>
<line x1="2.72" y1="0.90" x2="7.70" y2="2.54" stroke="#EE8E2E" stroke-width="0.85"/>
<line x1="2.08" y1="1.65" x2="5.89" y2="4.69" stroke="#EE8E2E" stroke-width="0.85"/>
<line x1="1.13" y1="2.16" x2="3.19" y2="6.13" stroke="#EE8E2E" stroke-width="0.85"/>
<line x1="0.00" y1="2.34" x2="0.00" y2="6.63" stroke="#EE8E2E" stroke-width="0.85"/>
<line x1="-1.13" y1="2.16" x2="-3.19" y2="6.13" stroke="#EE8E2E" stroke-width="0.85"/>
<line x1="-2.08" y1="1.65" x2="-5.89" y2="4.69" stroke="#EE8E2E" stroke-width="0.85"/>
<line x1="-2.72" y1="0.90" x2="-7.70" y2="2.54" stroke="#EE8E2E" stroke-width="0.85"/>
<line x1="-2.94" y1="0.00" x2="-8.33" y2="0.00" stroke="#EE8E2E" stroke-width="0.85"/>
<line x1="-2.72" y1="-0.90" x2="-7.70" y2="-2.54" stroke="#EE8E2E" stroke-width="0.85"/>
<line x1="-2.08" y1="-1.65" x2="-5.89" y2="-4.69" stroke="#EE8E2E" stroke-width="0.85"/>
<line x1="-1.13" y1="-2.16" x2="-3.19" y2="-6.13" stroke="#EE8E2E" stroke-width="0.85"/>
<line x1="-0.00" y1="-2.34" x2="-0.00" y2="-6.63" stroke="#EE8E2E" stroke-width="0.85"/>
<line x1="1.13" y1="-2.16" x2="3.19" y2="-6.13" stroke="#EE8E2E" stroke-width="0.85"/>
<line x1="2.08" y1="-1.65" x2="5.89" y2="-4.69" stroke="#EE8E2E" stroke-width="0.85"/>
<line x1="2.72" y1="-0.90" x2="7.70" y2="-2.54" stroke="#EE8E2E" stroke-width="0.85"/>
</g>
<path d="M611.2,14.5 C611.5,8 617,3 625.5,1" fill="none" stroke="#EE8E2E" stroke-width="1.1"/>
<path d="M601.5,27 C597.5,34 600,42.5 609.5,44" fill="none" stroke="#EE8E2E" stroke-width="1.1"/>
<text x="647.3" y="115.7" font-size="10.5"><tspan font-style="italic">n</tspan> (cm<tspan font-size="7" dy="-4">−3</tspan><tspan dy="4">)</tspan></text>
<text x="659.3" y="131.9" font-size="10.5">×10<tspan font-size="7" dy="-4">16</tspan></text>
<rect x="654.8" y="137.2" width="11" height="80.5" fill="url(#cbar)"/>
<line x1="663.3" y1="147" x2="665.8" y2="147" stroke="#222" stroke-width="0.9"/>
<text x="670" y="150" font-size="10.3">4.5</text>
<line x1="663.3" y1="166.8" x2="665.8" y2="166.8" stroke="#222" stroke-width="0.9"/>
<text x="670" y="169.8" font-size="10.3">3.5</text>
<line x1="663.3" y1="187.9" x2="665.8" y2="187.9" stroke="#222" stroke-width="0.9"/>
<text x="670" y="190.9" font-size="10.3">2.5</text>
<line x1="663.3" y1="207.7" x2="665.8" y2="207.7" stroke="#222" stroke-width="0.9"/>
<text x="670" y="210.7" font-size="10.3">1.5</text>
<path d="M498.8,226 H486.7 V307.2 H554.3 M572.3,307.2 H646.4 V228.1 H641.5" fill="none" stroke="#2b2b2b" stroke-width="1.1"/>
<path d="M498.8,202.3 L531.9,200.2 L531.9,237.6 L524.9,238.8 L524.9,205.4 L512.7,206.8 L512.7,240.6 L498.8,242.3 Z" fill="#6a0510"/>
<path d="M535.3,203.3 L566.7,201.1 L566.7,239.9 L562.5,240.6 L562.5,206.8 L548.9,208 L548.9,242.8 L535.3,245.4 Z" fill="#6a0510"/>
<path d="M573.7,205.4 L602.9,202.3 L602.9,241.6 L591.1,243.7 L591.1,208.9 L578,210.3 L578,246.3 L573.7,247.2 Z" fill="#6a0510"/>
<path d="M614,206.3 L641.5,203.7 L641.5,243.7 L630.7,246.3 L630.7,210.7 L620.3,212 L620.3,248.9 L614,250.3 Z" fill="#6a0510"/>
<path d="M512.7,220 C510,222 508,226 507,231 L505.5,241.5 L512.7,240.6 Z" fill="url(#glow)"/>
<path d="M548.9,218 C546,221 543,226 542,232 L541.5,244 L548.9,242.8 Z" fill="url(#glow)"/>
<path d="M591.1,217.5 C594,219 596,224 597,232 L597,242.6 L591.1,243.7 Z" fill="url(#glow)"/>
<path d="M630.7,225 C633.5,226.5 636,231 637,237 L637,244.6 L630.7,246.3 Z" fill="url(#glow)"/>
<text x="0" y="0" class="w" font-size="8.6" fill="#fff" text-anchor="middle" transform="translate(508.5,224.8) rotate(-90)">InAs</text>
<circle cx="493.1" cy="226" r="2.1" fill="#d6e6f7" stroke="#5a8ed6" stroke-width="0.9"/>
<circle cx="486.7" cy="235.9" r="2.1" fill="#d6e6f7" stroke="#5a8ed6" stroke-width="0.9"/>
<circle cx="486.7" cy="247.5" r="2.1" fill="#d6e6f7" stroke="#5a8ed6" stroke-width="0.9"/>
<circle cx="486.7" cy="259.9" r="2.1" fill="#d6e6f7" stroke="#5a8ed6" stroke-width="0.9"/>
<circle cx="486.7" cy="273" r="2.1" fill="#d6e6f7" stroke="#5a8ed6" stroke-width="0.9"/>
<circle cx="486.7" cy="281.1" r="2.1" fill="#d6e6f7" stroke="#5a8ed6" stroke-width="0.9"/>
<circle cx="486.7" cy="292.7" r="2.1" fill="#d6e6f7" stroke="#5a8ed6" stroke-width="0.9"/>
<circle cx="493.9" cy="307.2" r="2.1" fill="#d6e6f7" stroke="#5a8ed6" stroke-width="0.9"/>
<circle cx="504.7" cy="307.2" r="2.1" fill="#d6e6f7" stroke="#5a8ed6" stroke-width="0.9"/>
<circle cx="520.3" cy="307.2" r="2.1" fill="#d6e6f7" stroke="#5a8ed6" stroke-width="0.9"/>
<circle cx="535.5" cy="307.2" r="2.1" fill="#d6e6f7" stroke="#5a8ed6" stroke-width="0.9"/>
<circle cx="549.3" cy="307.2" r="2.1" fill="#d6e6f7" stroke="#5a8ed6" stroke-width="0.9"/>
<circle cx="579.9" cy="307.2" r="2.1" fill="#d6e6f7" stroke="#5a8ed6" stroke-width="0.9"/>
<circle cx="590.8" cy="307.2" r="2.1" fill="#d6e6f7" stroke="#5a8ed6" stroke-width="0.9"/>
<circle cx="604" cy="307.2" r="2.1" fill="#d6e6f7" stroke="#5a8ed6" stroke-width="0.9"/>
<circle cx="616.5" cy="307.2" r="2.1" fill="#d6e6f7" stroke="#5a8ed6" stroke-width="0.9"/>
<circle cx="631.9" cy="307.2" r="2.1" fill="#d6e6f7" stroke="#5a8ed6" stroke-width="0.9"/>
<circle cx="646.4" cy="307.2" r="2.1" fill="#d6e6f7" stroke="#5a8ed6" stroke-width="0.9"/>
<circle cx="646.4" cy="236" r="2.1" fill="#d6e6f7" stroke="#5a8ed6" stroke-width="0.9"/>
<circle cx="646.4" cy="253.3" r="2.1" fill="#d6e6f7" stroke="#5a8ed6" stroke-width="0.9"/>
<circle cx="646.4" cy="266.4" r="2.1" fill="#d6e6f7" stroke="#5a8ed6" stroke-width="0.9"/>
<circle cx="646.4" cy="281.4" r="2.1" fill="#d6e6f7" stroke="#5a8ed6" stroke-width="0.9"/>
<circle cx="646.4" cy="296.8" r="2.1" fill="#d6e6f7" stroke="#5a8ed6" stroke-width="0.9"/>
<circle cx="563.5" cy="306.7" r="9.1" fill="#fff" stroke="#2c4678" stroke-width="1"/>
<text x="557.0" y="309.09999999999997" font-size="9" font-style="italic">V</text>
<text x="562.7" y="311.3" font-size="6">ds</text>
<text x="551.3" y="318.5" font-size="10.5" text-anchor="middle">+</text>
<rect x="571.8" y="314.7" width="5" height="1.1" fill="#111"/>
<line x1="525.1" y1="247.4" x2="598.5" y2="256.3" stroke="#3d68cc" stroke-width="1.1"/>
<path d="M603,256.8 L597,253.4 L598.3,256.2 L596.3,258.9 Z" fill="#3d68cc"/>
<text x="601.5" y="266" font-size="9" font-style="italic">y</text>
<path d="M538,275.4 C547,264 566,256 587,261.5 L594,259.5 L594.5,273 L579.3,274.6 L583,270.3 C567,263.5 550,266 538,275.4 Z" fill="url(#garc)"/>
<path d="M594.5,276.8 C587,290 566,298 546,292.5 L541,294.2 L538.7,281.5 L555,280 L551.5,284 C566,290 583,286 594.5,276.8 Z" fill="url(#barc)"/>
<text x="596" y="175.9" font-size="10">LCP</text>
<line x1="602.9" y1="214.3" x2="634.8" y2="169.3" stroke="#1a8a82" stroke-width="0.9"/>
<g transform="translate(612.5,199.5) rotate(35)">
<ellipse cx="0" cy="0" rx="8.5" ry="5.8" fill="#fff" fill-opacity="0.6" stroke="#1a8a82" stroke-width="1.2"/>
<ellipse cx="0" cy="0" rx="2.38" ry="1.62" fill="none" stroke="#1a8a82" stroke-width="0.9"/>
<line x1="2.55" y1="0.00" x2="7.22" y2="0.00" stroke="#1a8a82" stroke-width="0.85"/>
<line x1="2.21" y1="0.87" x2="6.26" y2="2.46" stroke="#1a8a82" stroke-width="0.85"/>
<line x1="1.28" y1="1.51" x2="3.61" y2="4.27" stroke="#1a8a82" stroke-width="0.85"/>
<line x1="0.00" y1="1.74" x2="0.00" y2="4.93" stroke="#1a8a82" stroke-width="0.85"/>
<line x1="-1.27" y1="1.51" x2="-3.61" y2="4.27" stroke="#1a8a82" stroke-width="0.85"/>
<line x1="-2.21" y1="0.87" x2="-6.26" y2="2.46" stroke="#1a8a82" stroke-width="0.85"/>
<line x1="-2.55" y1="0.00" x2="-7.22" y2="0.00" stroke="#1a8a82" stroke-width="0.85"/>
<line x1="-2.21" y1="-0.87" x2="-6.26" y2="-2.46" stroke="#1a8a82" stroke-width="0.85"/>
<line x1="-1.28" y1="-1.51" x2="-3.61" y2="-4.27" stroke="#1a8a82" stroke-width="0.85"/>
<line x1="-0.00" y1="-1.74" x2="-0.00" y2="-4.93" stroke="#1a8a82" stroke-width="0.85"/>
<line x1="1.28" y1="-1.51" x2="3.61" y2="-4.27" stroke="#1a8a82" stroke-width="0.85"/>
<line x1="2.21" y1="-0.87" x2="6.26" y2="-2.47" stroke="#1a8a82" stroke-width="0.85"/>
</g>
<g transform="translate(618.3,190.6) rotate(35)">
<ellipse cx="0" cy="0" rx="10.2" ry="7.8" fill="#fff" fill-opacity="0.6" stroke="#1a8a82" stroke-width="1.2"/>
<ellipse cx="0" cy="0" rx="2.86" ry="2.18" fill="none" stroke="#1a8a82" stroke-width="0.9"/>
<line x1="3.06" y1="0.00" x2="8.67" y2="0.00" stroke="#1a8a82" stroke-width="0.85"/>
<line x1="2.83" y1="0.90" x2="8.01" y2="2.54" stroke="#1a8a82" stroke-width="0.85"/>
<line x1="2.16" y1="1.65" x2="6.13" y2="4.69" stroke="#1a8a82" stroke-width="0.85"/>
<line x1="1.17" y1="2.16" x2="3.32" y2="6.13" stroke="#1a8a82" stroke-width="0.85"/>
<line x1="0.00" y1="2.34" x2="0.00" y2="6.63" stroke="#1a8a82" stroke-width="0.85"/>
<line x1="-1.17" y1="2.16" x2="-3.32" y2="6.13" stroke="#1a8a82" stroke-width="0.85"/>
<line x1="-2.16" y1="1.65" x2="-6.13" y2="4.69" stroke="#1a8a82" stroke-width="0.85"/>
<line x1="-2.83" y1="0.90" x2="-8.01" y2="2.54" stroke="#1a8a82" stroke-width="0.85"/>
<line x1="-3.06" y1="0.00" x2="-8.67" y2="0.00" stroke="#1a8a82" stroke-width="0.85"/>
<line x1="-2.83" y1="-0.90" x2="-8.01" y2="-2.54" stroke="#1a8a82" stroke-width="0.85"/>
<line x1="-2.16" y1="-1.65" x2="-6.13" y2="-4.69" stroke="#1a8a82" stroke-width="0.85"/>
<line x1="-1.17" y1="-2.16" x2="-3.32" y2="-6.13" stroke="#1a8a82" stroke-width="0.85"/>
<line x1="-0.00" y1="-2.34" x2="-0.00" y2="-6.63" stroke="#1a8a82" stroke-width="0.85"/>
<line x1="1.17" y1="-2.16" x2="3.32" y2="-6.13" stroke="#1a8a82" stroke-width="0.85"/>
<line x1="2.16" y1="-1.65" x2="6.13" y2="-4.69" stroke="#1a8a82" stroke-width="0.85"/>
<line x1="2.83" y1="-0.90" x2="8.01" y2="-2.54" stroke="#1a8a82" stroke-width="0.85"/>
</g>
<g transform="translate(623.6,182.3) rotate(35)">
<ellipse cx="0" cy="0" rx="10.2" ry="7.8" fill="#fff" fill-opacity="0.6" stroke="#1a8a82" stroke-width="1.2"/>
<ellipse cx="0" cy="0" rx="2.86" ry="2.18" fill="none" stroke="#1a8a82" stroke-width="0.9"/>
<line x1="3.06" y1="0.00" x2="8.67" y2="0.00" stroke="#1a8a82" stroke-width="0.85"/>
<line x1="2.83" y1="0.90" x2="8.01" y2="2.54" stroke="#1a8a82" stroke-width="0.85"/>
<line x1="2.16" y1="1.65" x2="6.13" y2="4.69" stroke="#1a8a82" stroke-width="0.85"/>
<line x1="1.17" y1="2.16" x2="3.32" y2="6.13" stroke="#1a8a82" stroke-width="0.85"/>
<line x1="0.00" y1="2.34" x2="0.00" y2="6.63" stroke="#1a8a82" stroke-width="0.85"/>
<line x1="-1.17" y1="2.16" x2="-3.32" y2="6.13" stroke="#1a8a82" stroke-width="0.85"/>
<line x1="-2.16" y1="1.65" x2="-6.13" y2="4.69" stroke="#1a8a82" stroke-width="0.85"/>
<line x1="-2.83" y1="0.90" x2="-8.01" y2="2.54" stroke="#1a8a82" stroke-width="0.85"/>
<line x1="-3.06" y1="0.00" x2="-8.67" y2="0.00" stroke="#1a8a82" stroke-width="0.85"/>
<line x1="-2.83" y1="-0.90" x2="-8.01" y2="-2.54" stroke="#1a8a82" stroke-width="0.85"/>
<line x1="-2.16" y1="-1.65" x2="-6.13" y2="-4.69" stroke="#1a8a82" stroke-width="0.85"/>
<line x1="-1.17" y1="-2.16" x2="-3.32" y2="-6.13" stroke="#1a8a82" stroke-width="0.85"/>
<line x1="-0.00" y1="-2.34" x2="-0.00" y2="-6.63" stroke="#1a8a82" stroke-width="0.85"/>
<line x1="1.17" y1="-2.16" x2="3.32" y2="-6.13" stroke="#1a8a82" stroke-width="0.85"/>
<line x1="2.16" y1="-1.65" x2="6.13" y2="-4.69" stroke="#1a8a82" stroke-width="0.85"/>
<line x1="2.83" y1="-0.90" x2="8.01" y2="-2.54" stroke="#1a8a82" stroke-width="0.85"/>
</g>
<path d="M640.2,173.6 C641,183 636,191 629.9,196.7 C624,203 620,209 615.5,210.2 C610,211 605,209 602.8,206.3" fill="none" stroke="#1a8a82" stroke-width="1.2"/>
<text x="479.2" y="20.2" font-size="14.5" font-weight="bold">c</text></svg></body></html>
